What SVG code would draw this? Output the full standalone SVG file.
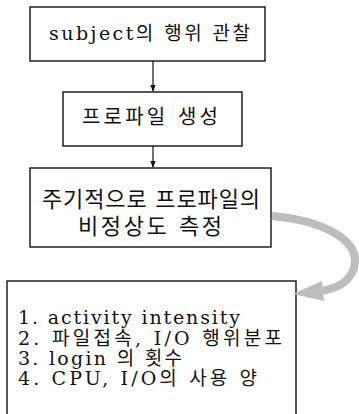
<svg xmlns="http://www.w3.org/2000/svg" width="359" height="414" viewBox="0 0 359 414">
<defs>
<style>
.box{fill:#fff;stroke:#111;stroke-width:1.4}
.t{font-family:"DejaVu Serif","Noto Sans CJK KR",serif;fill:#111}
.c{stroke:#111;stroke-width:1.2;fill:none}
</style>
<marker id="ah" viewBox="0 0 8 8" refX="7" refY="4" markerWidth="6" markerHeight="6" orient="auto">
<path d="M0,1 L8,4 L0,7 Z" fill="#111"/>
</marker>
</defs>
<rect width="359" height="414" fill="#fff"/>
<g id="n1">
<rect class="box" x="30" y="7" width="235" height="54"/>
<text class="t" x="49" y="40" font-size="19" textLength="201" lengthAdjust="spacing">subject의 행위 관찰</text>
</g>
<g id="n2">
<rect class="box" x="63" y="92" width="179" height="54"/>
<text class="t" x="82" y="124" font-size="20" textLength="136" lengthAdjust="spacing">프로파일 생성</text>
</g>
<g id="n3">
<rect class="box" x="30" y="168" width="241" height="79"/>
<text class="t" x="42" y="207" font-size="22" textLength="218" lengthAdjust="spacing">주기적으로 프로파일의</text>
<text class="t" x="78" y="234" font-size="22" textLength="144" lengthAdjust="spacing">비정상도 측정</text>
</g>
<g id="n4">
<rect class="box" x="7" y="281" width="289" height="140"/>
<text class="t" x="18" y="324" font-size="19" textLength="222" lengthAdjust="spacing">1. activity intensity</text>
<text class="t" x="18" y="345" font-size="19" textLength="264" lengthAdjust="spacing">2. 파일접속, I/O 행위분포</text>
<text class="t" x="18" y="365" font-size="19" textLength="164" lengthAdjust="spacing">3. login 의 횟수</text>
<text class="t" x="18" y="385" font-size="19" textLength="239" lengthAdjust="spacing">4. CPU, I/O의 사용 양</text>
</g>
<g id="connectors">
<line class="c" x1="153" y1="61" x2="153" y2="91" marker-end="url(#ah)"/>
<line class="c" x1="153" y1="146" x2="153" y2="167" marker-end="url(#ah)"/>
<path d="M272,216 C318,220 362,238 354,268 C349,283 336,289 320,291" stroke="#bdbdbd" stroke-width="8" fill="none"/>
<polygon points="293,294 322,281 324,301" fill="#bdbdbd"/>
</g>
</svg>
